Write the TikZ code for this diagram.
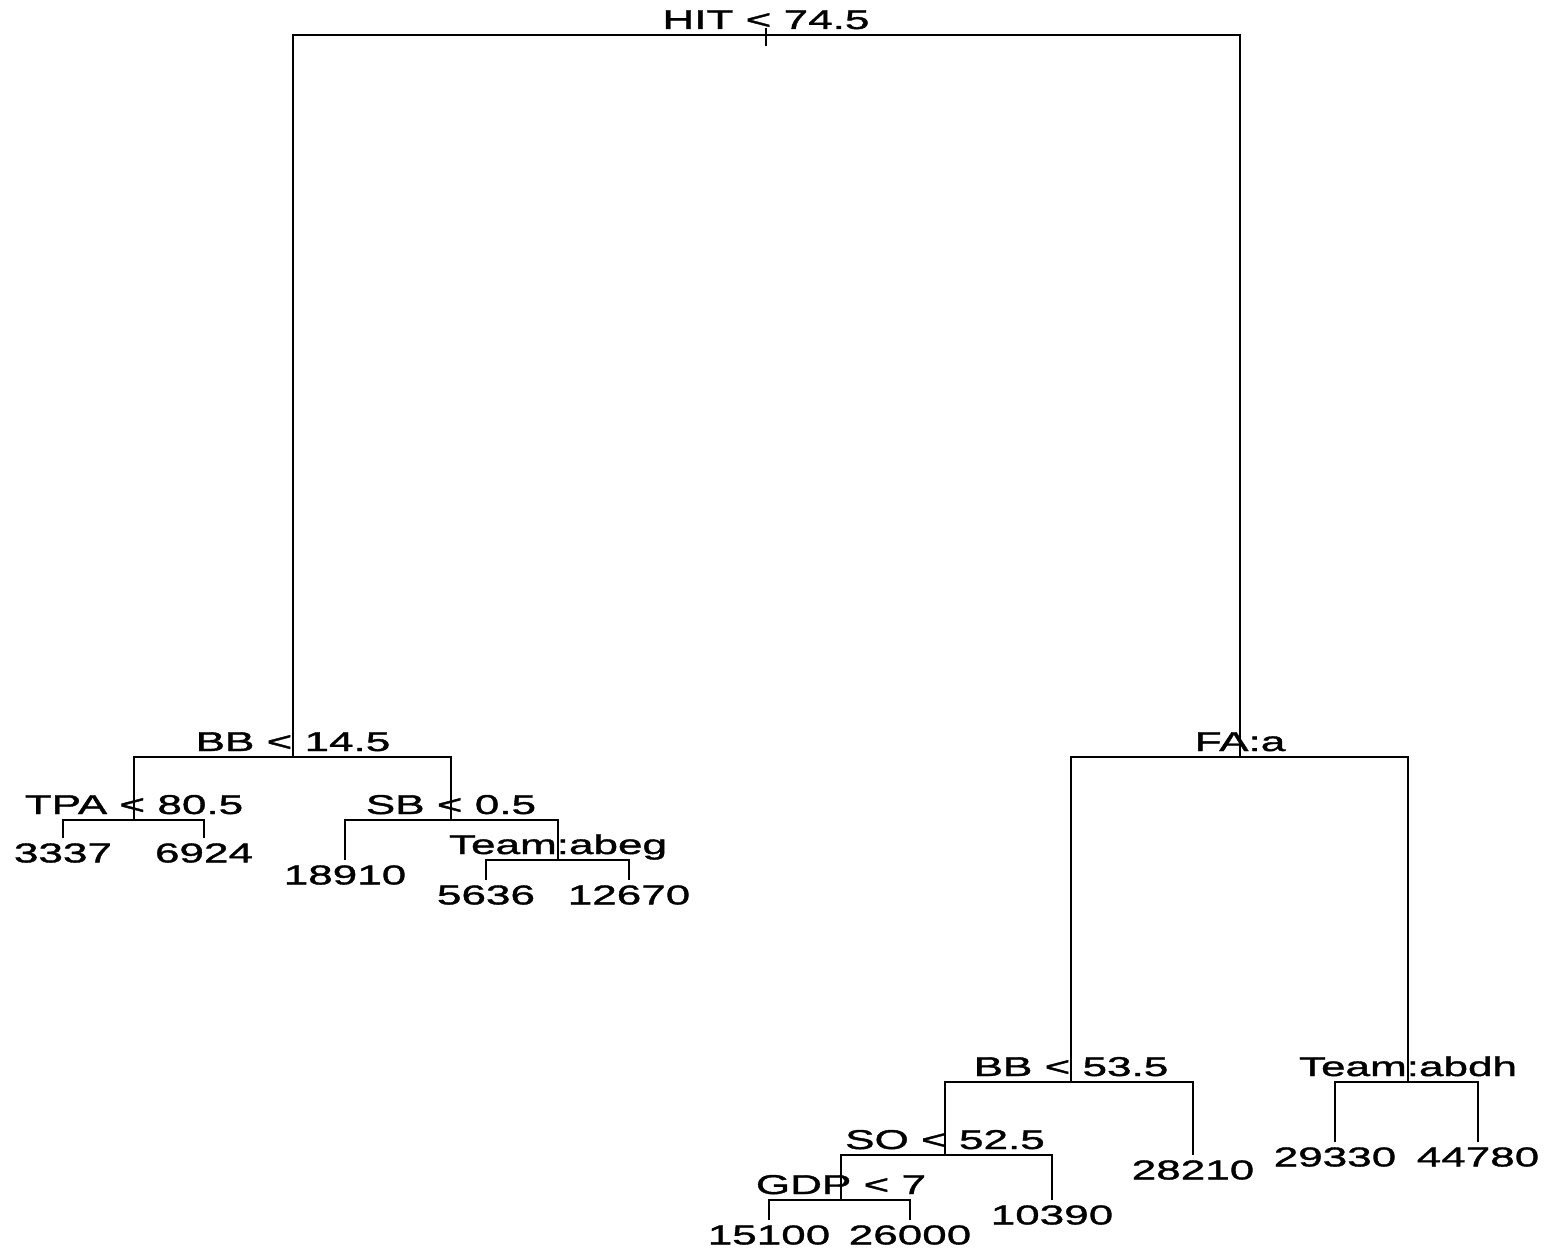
\documentclass[tikz,border=0pt]{standalone}
\usepackage{fontspec}
\setmainfont{Liberation Sans}[FakeStretch=1.62,FakeBold=1.4]
\begin{document}
\begin{tikzpicture}[x=0.5pt,y=-0.5pt,line width=1pt,
  lbl/.style={font=\fontsize{13.6}{15}\selectfont,inner sep=0pt,anchor=base,yshift=3pt},
  leaf/.style={font=\fontsize{13.6}{15}\selectfont,inner xsep=0pt,inner ysep=2.2pt,anchor=north}]
\useasboundingbox (0,0) rectangle (1544,1252);
% split points
\coordinate (r) at (766,35);
\coordinate (a) at (293,757);
\coordinate (b) at (1240,757);
\coordinate (c) at (134,820);
\coordinate (d) at (451,820);
\coordinate (e) at (558,860);
\coordinate (f) at (1071,1082);
\coordinate (g) at (1408,1082);
\coordinate (h) at (945,1155);
\coordinate (i) at (841,1200);
\coordinate (rt) at (766,28);
\coordinate (rb) at (766,46);
% split labels
\node[lbl] (lr) at (r) {HIT < 74.5};
\node[lbl] (la) at (a) {BB < 14.5};
\node[lbl] (lb) at (b) {FA:a};
\node[lbl] (lc) at (c) {TPA < 80.5};
\node[lbl] (ld) at (d) {SB < 0.5};
\node[lbl] (le) at (e) {Team:abeg};
\node[lbl] (lf) at (f) {BB < 53.5};
\node[lbl] (lg) at (g) {Team:abdh};
\node[lbl] (lh) at (h) {SO < 52.5};
\node[lbl] (li) at (i) {GDP < 7};
% leaves
\node[leaf] (l1) at (63,838) {3337};
\node[leaf] (l2) at (204,838) {6924};
\node[leaf] (l3) at (345,860) {18910};
\node[leaf] (l4) at (486,880) {5636};
\node[leaf] (l5) at (629,880) {12670};
\node[leaf] (l6) at (1335,1142) {29330};
\node[leaf] (l7) at (1478,1142) {44780};
\node[leaf] (l8) at (1193,1155) {28210};
\node[leaf] (l9) at (1052,1200) {10390};
\node[leaf] (l10) at (769,1220) {15100};
\node[leaf] (l11) at (910,1220) {26000};
% edges
\draw (rt) -- (rb);
\draw (a) |- (r) -| (b);
\draw (c) |- (a) -| (d);
\draw (l1.north) |- (c) -| (l2.north);
\draw (l3.north) |- (d) -| (e);
\draw (l4.north) |- (e) -| (l5.north);
\draw (f) |- (b) -| (g);
\draw (l6.north) |- (g) -| (l7.north);
\draw (h) |- (f) -| (l8.north);
\draw (i) |- (h) -| (l9.north);
\draw (l10.north) |- (i) -| (l11.north);
\end{tikzpicture}
\end{document}
